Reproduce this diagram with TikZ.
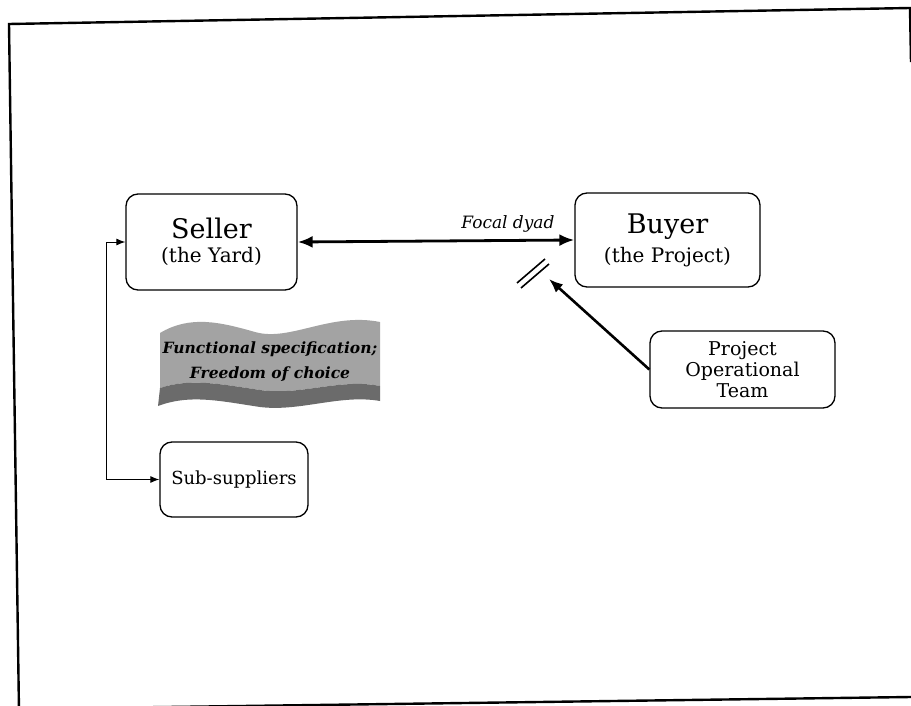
\documentclass[tikz,border=0pt]{standalone}
\usepackage{fontspec}
\setmainfont{DejaVu Serif}
\usetikzlibrary{arrows.meta}
\begin{document}
\begin{tikzpicture}[x=1pt,y=-1pt,
  box/.style={draw, line width=1.3pt, rounded corners=12pt, align=center, inner sep=0pt},
  frameline/.style={line width=2.4pt},
  thinarrow/.style={line width=1pt, {Latex[length=9pt,width=7pt]}-{Latex[length=9pt,width=7pt]}},
  boldarrow/.style={line width=2.6pt, -{Latex[length=14pt,width=11pt]}},
]
\useasboundingbox (0,0) rectangle (911,706);

% page frame, slightly skewed
\begin{scope}
  \clip (0,0) rectangle (911,706);
  \draw[frameline] (19,712) -- (9,24) -- (910,8) -- (911,62);
  \draw[frameline] (19,709) -- (911,697);
\end{scope}

% parties
\node[box, minimum width=171pt, minimum height=96pt] (seller) at (211.5,242)
  {{\fontsize{27}{30}\selectfont Seller}\\[7pt]{\fontsize{20}{22}\selectfont (the Yard)}};
\node[box, minimum width=185pt, minimum height=94pt] (buyer) at (667.5,240)
  {{\fontsize{27}{30}\selectfont Buyer}\\[7pt]{\fontsize{20}{22}\selectfont (the Project)}};
\node[box, minimum width=185pt, minimum height=77pt, font=\fontsize{19}{21}\selectfont] (team) at (742.5,369.5)
  {Project\\Operational\\Team};
\node[box, minimum width=148pt, minimum height=75pt, font=\fontsize{18}{21}\selectfont] (subs) at (234,479.5)
  {Sub-suppliers};

% focal dyad
\draw[line width=2.8pt, {Latex[length=15pt,width=12pt]}-{Latex[length=15pt,width=12pt]}] (seller.east) -- (buyer.west)
  node[pos=0.76, above=3pt, font=\fontsize{17}{20}\selectfont\itshape] (dyad) {Focal dyad};

% break mark on the dyad
\coordinate (brk) at (533,270);
\draw[line width=1.6pt] ([shift={(-16,13)}]brk) -- ([shift={(12,-11)}]brk);
\draw[line width=1.6pt] ([shift={(-12,18)}]brk) -- ([shift={(16,-6)}]brk);

% influence of the operational team
\coordinate (tip) at (549,279);
\draw[boldarrow] (team.west) -- (tip);

% seller to sub-suppliers
\draw[thinarrow] (seller.west) -- ++(-19,0) |- (subs.west);

% wavy banner
\fill[black!36] (160,333) .. controls (190,315) and (220,322) .. (255,332)
  .. controls (290,342) and (330,312) .. (380,322) -- (380,386)
  .. controls (340,378) and (300,396) .. (260,390)
  .. controls (220,384) and (190,378) .. (160,388) -- cycle;
\fill[black!58] (160,388) .. controls (190,378) and (220,384) .. (260,390)
  .. controls (300,396) and (340,378) .. (380,386) -- (380,401)
  .. controls (340,394) and (300,412) .. (260,407)
  .. controls (220,401) and (190,394) .. (158,406) -- cycle;
\node[font=\fontsize{15.5}{25}\selectfont\bfseries\itshape, align=center] (banner) at (270,362)
  {Functional specification;\\Freedom of choice};
\end{tikzpicture}
\end{document}
